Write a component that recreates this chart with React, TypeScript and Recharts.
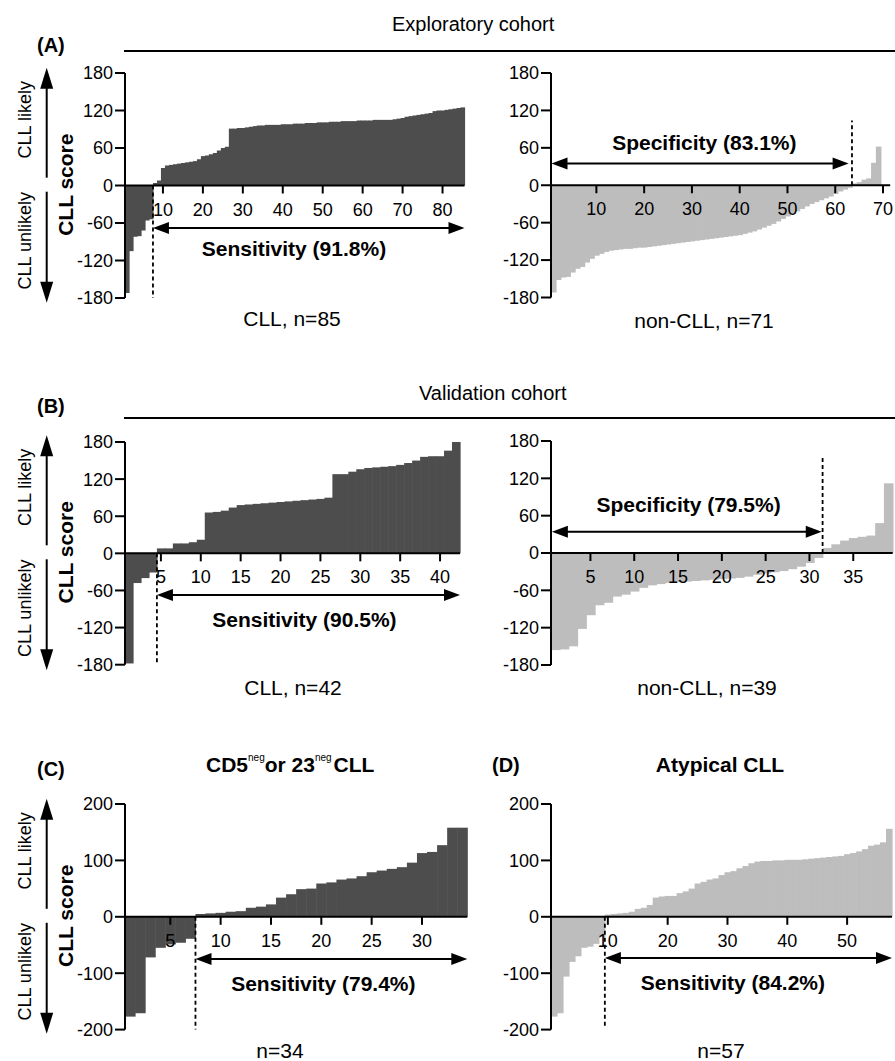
import React from 'react'
import { BarChart, Bar, XAxis, YAxis, ReferenceLine } from 'recharts'

const FONT = 'Arial, "Liberation Sans", Helvetica, sans-serif'
const DARK = '#4d4d4d'
const LIGHT = '#bdbdbd'

// (A) exploratory cohort, CLL score per case, sorted
const expCll = [
  -172, -105, -82, -81, -72, -56, -54,
  4, 8, 28, 32, 33, 34, 35, 36, 37, 38, 39, 42, 47, 48, 50, 52, 56, 60, 62,
  91, 91, 92, 92, 93, 94, 95, 96, 96, 97, 97, 97, 97, 98, 98, 98, 99, 99, 99, 100,
  100, 100, 101, 101, 101, 102, 102, 102, 103, 103, 103, 103, 104, 104, 104, 104,
  105, 105, 105, 105, 105, 106, 107, 108, 110, 111, 112, 113, 114, 115, 116, 119,
  120, 120, 121, 122, 123, 124, 125,
]
const expNonCll: (number | null)[] = [
  -172, -152, -148, -147, -140, -134, -131, -124, -118, -113, -110, -107, -105,
  -104, -103, -102, -102, -101, -100, -100, -99, -98, -97, -96, -95, -94, -93,
  -92, -91, -90, -89, -88, -87, -86, -85, -84, -83, -82, -81, -80, -78, -76, -74,
  -71, -68, -65, -62, -58, -54, -50, -46, -42, -38, -34, -30, -27, -24, -21, -18,
  -14, -10, -7, -4,
  3, 5, 9, 11, 36, 62, null, null,
]

// (B) validation cohort
const valCll = [
  -178, -48, -40, -31,
  8, 8, 16, 16, 18, 22, 66, 67, 69, 74, 78, 79, 80, 81, 82, 83, 84, 85, 86, 87, 88,
  90, 128, 128, 132, 136, 138, 139, 140, 141, 143, 146, 150, 156, 157, 157, 166, 180,
]
const valNonCll = [
  -156, -155, -150, -122, -100, -84, -80, -70, -67, -62, -56, -52, -50, -48, -47,
  -46, -45, -44, -43, -42, -41, -40, -38, -35, -33, -31, -29, -26, -22, -16, -8,
  8, 14, 20, 24, 26, 28, 48, 112,
]

// (C) CD5neg or CD23neg CLL, (D) atypical CLL
const cd5Cll = [
  -177, -171, -72, -55, -49, -46, -39,
  5, 6, 7, 9, 10, 16, 18, 22, 34, 40, 49, 50, 59, 61, 66, 68, 72, 79, 82, 85, 88,
  96, 113, 115, 127, 158, 158,
]
const atypCll = [
  -177, -171, -106, -80, -70, -55, -53, -48, -36,
  4, 5, 6, 7, 9, 14, 16, 21, 34, 36, 37, 37, 42, 45, 50, 59, 62, 66, 68, 74, 79, 81,
  86, 90, 95, 98, 99, 99, 100, 100, 101, 101, 101, 102, 103, 104, 105, 106, 107,
  108, 111, 113, 116, 120, 126, 128, 132, 156,
]

const ticks180 = [-180, -120, -60, 0, 60, 120, 180]
const ticks200 = [-200, -100, 0, 100, 200]

interface PanelProps {
  values: (number | null)[]
  fill: string
  axisX: number
  endX: number
  yTop: number
  yBottom: number
  yMax: number
  yTicks: number[]
  xTicks: number[]
  cut: number
  cutTo: number
  arrow: [number, number, number]
  label: string
  labelAt: [number, number]
}

const arrowShape = (props: any) => {
  const { x1, x2, y1 } = props
  const a = Math.min(x1, x2)
  const b = Math.max(x1, x2)
  const L = 16
  const h = 6
  return (
    <g>
      <line x1={a + L - 1} x2={b - L + 1} y1={y1} y2={y1} stroke="#000" strokeWidth={2} />
      <polygon points={`${a},${y1} ${a + L},${y1 - h} ${a + L},${y1 + h}`} fill="#000" />
      <polygon points={`${b},${y1} ${b - L},${y1 - h} ${b - L},${y1 + h}`} fill="#000" />
    </g>
  )
}

const textShape = (txt: string) => (props: any) => (
  <text
    x={(props.x1 + props.x2) / 2}
    y={props.y1}
    dy="0.35em"
    textAnchor="middle"
    fontFamily={FONT}
    fontSize={21}
    fontWeight="bold"
    fill="#000"
  >
    {txt}
  </text>
)

// plain rect, a little wider so neighbouring bars join without seams
const barShape = (fill: string) => (props: any) => {
  const { x, y, width, height } = props
  if (width == null || height == null || !isFinite(y)) return <g />
  const top = Math.min(y, y + height)
  return <rect x={x} y={top} width={width + 0.6} height={Math.abs(height)} fill={fill} />
}

function Panel(p: PanelProps) {
  const YW = 60
  const MT = 12
  const MB = 12
  const MR = 4
  const plotW = p.endX - p.axisX
  const plotH = p.yBottom - p.yTop
  const zeroY = MT + plotH / 2
  const n = p.values.length
  const data = p.values.map((v, i) => ({ i: i + 1, v }))

  const renderTick = (props: any) => {
    const v = Number(props.payload?.value)
    if (!p.xTicks.includes(v)) return <g />
    return (
      <g>
        <line x1={props.x} x2={props.x} y1={zeroY} y2={zeroY + 8} stroke="#000" strokeWidth={2} />
        <text x={props.x} y={zeroY + 30} textAnchor="middle" fontFamily={FONT} fontSize={18} fill="#000">
          {v}
        </text>
      </g>
    )
  }

  return (
    <div style={{ position: 'absolute', left: p.axisX - YW, top: p.yTop - MT }}>
      <BarChart
        width={YW + plotW + MR}
        height={MT + plotH + MB}
        data={data}
        margin={{ top: MT, right: MR, bottom: MB - 2, left: 0 }}
        barCategoryGap={0}
        barGap={0}
      >
        <Bar dataKey="v" fill={p.fill} shape={barShape(p.fill)} isAnimationActive={false} />
        <XAxis dataKey="i" height={2} axisLine={false} tickLine={false} interval={0} tick={renderTick} />
        <XAxis xAxisId="n" type="number" dataKey="i" domain={[0.5, n + 0.5]} hide allowDataOverflow />
        <YAxis
          width={YW}
          domain={[-p.yMax, p.yMax]}
          ticks={p.yTicks}
          interval={0}
          allowDataOverflow
          axisLine={{ stroke: '#000', strokeWidth: 2 }}
          tickLine={{ stroke: '#000', strokeWidth: 2 }}
          tickSize={10}
          tickMargin={2}
          tick={{ fill: '#000', fontSize: 18, fontFamily: FONT }}
        />
        <ReferenceLine y={0} stroke="#000" strokeWidth={2} />
        <ReferenceLine
          xAxisId="n"
          ifOverflow="visible"
          segment={[{ x: p.cut, y: 0 }, { x: p.cut, y: p.cutTo }]}
          stroke="#000"
          strokeWidth={1.8}
          strokeDasharray="4 3"
        />
        <ReferenceLine
          xAxisId="n"
          ifOverflow="visible"
          segment={[{ x: p.arrow[0], y: p.arrow[2] }, { x: p.arrow[1], y: p.arrow[2] }]}
          shape={arrowShape}
        />
        <ReferenceLine
          xAxisId="n"
          ifOverflow="visible"
          segment={[{ x: p.labelAt[0] - 1, y: p.labelAt[1] }, { x: p.labelAt[0] + 1, y: p.labelAt[1] }]}
          shape={textShape(p.label)}
        />
      </BarChart>
    </div>
  )
}

function SideLabels({ zero }: { zero: number }) {
  const ax = 46.7
  return (
    <g fontFamily={FONT} fill="#000">
      <text transform={`translate(31, ${zero - 66}) rotate(-90)`} textAnchor="middle" fontSize={18}>
        CLL likely
      </text>
      <text transform={`translate(31, ${zero + 55}) rotate(-90)`} textAnchor="middle" fontSize={18}>
        CLL unlikely
      </text>
      <text transform={`translate(73, ${zero - 1}) rotate(-90)`} textAnchor="middle" fontSize={21} fontWeight="bold">
        CLL score
      </text>
      <line x1={ax} x2={ax} y1={zero - 100} y2={zero - 8} stroke="#000" strokeWidth={2} />
      <polygon points={`${ax},${zero - 118} ${ax - 6.5},${zero - 97} ${ax + 6.5},${zero - 97}`} />
      <line x1={ax} x2={ax} y1={zero + 6} y2={zero + 98} stroke="#000" strokeWidth={2} />
      <polygon points={`${ax},${zero + 117} ${ax - 6.5},${zero + 96} ${ax + 6.5},${zero + 96}`} />
    </g>
  )
}

export default function App() {
  return (
    <div style={{ position: 'absolute', left: 0, top: 0, width: 895, height: 1061, background: '#fff', overflow: 'hidden' }}>
      <Panel
        values={expCll}
        fill={DARK}
        axisX={125}
        endX={464.5}
        yTop={72.7}
        yBottom={297.7}
        yMax={180}
        yTicks={ticks180}
        xTicks={[10, 20, 30, 40, 50, 60, 70, 80]}
        cut={7.5}
        cutTo={-180}
        arrow={[7.5, 85.5, -68]}
        label="Sensitivity (91.8%)"
        labelAt={[42.8, -101]}
      />
      <Panel
        values={expNonCll}
        fill={LIGHT}
        axisX={551.4}
        endX={890.6}
        yTop={73}
        yBottom={297.5}
        yMax={180}
        yTicks={ticks180}
        xTicks={[10, 20, 30, 40, 50, 60, 70]}
        cut={63.5}
        cutTo={104}
        arrow={[0.6, 62.8, 35]}
        label="Specificity (83.1%)"
        labelAt={[32.6, 68]}
      />
      <Panel
        values={valCll}
        fill={DARK}
        axisX={124.5}
        endX={459.5}
        yTop={442}
        yBottom={664.7}
        yMax={180}
        yTicks={ticks180}
        xTicks={[5, 10, 15, 20, 25, 30, 35, 40]}
        cut={4.5}
        cutTo={-180}
        arrow={[4.5, 42.5, -67.5]}
        label="Sensitivity (90.5%)"
        labelAt={[23, -107]}
      />
      <Panel
        values={valNonCll}
        fill={LIGHT}
        axisX={551.3}
        endX={893}
        yTop={441}
        yBottom={665}
        yMax={180}
        yTicks={ticks180}
        xTicks={[5, 10, 15, 20, 25, 30, 35]}
        cut={31.5}
        cutTo={156}
        arrow={[0.6, 31.4, 34]}
        label="Specificity (79.5%)"
        labelAt={[16.2, 78]}
      />
      <Panel
        values={cd5Cll}
        fill={DARK}
        axisX={124.7}
        endX={467}
        yTop={804}
        yBottom={1029.6}
        yMax={200}
        yTicks={ticks200}
        xTicks={[5, 10, 15, 20, 25, 30]}
        cut={7.5}
        cutTo={-200}
        arrow={[7.5, 34.5, -75]}
        label="Sensitivity (79.4%)"
        labelAt={[20.2, -118]}
      />
      <Panel
        values={atypCll}
        fill={LIGHT}
        axisX={550.8}
        endX={891.8}
        yTop={804}
        yBottom={1029.6}
        yMax={200}
        yTicks={ticks200}
        xTicks={[10, 20, 30, 40, 50]}
        cut={9.5}
        cutTo={-197}
        arrow={[9.5, 57.5, -73]}
        label="Sensitivity (84.2%)"
        labelAt={[30.9, -117]}
      />

      <svg width={895} height={1061} style={{ position: 'absolute', left: 0, top: 0, pointerEvents: 'none' }}>
        <g fontFamily={FONT} fill="#000">
          <text x={392} y={31} fontSize={20}>Exploratory cohort</text>
          <line x1={124} x2={895} y1={51} y2={51} stroke="#000" strokeWidth={2} />
          <text x={37} y={52} fontSize={20} fontWeight="bold">(A)</text>
          <text x={292} y={326} fontSize={21} textAnchor="middle">CLL, n=85</text>
          <text x={704} y={328} fontSize={21} textAnchor="middle">non-CLL, n=71</text>

          <text x={419} y={400} fontSize={20}>Validation cohort</text>
          <line x1={124} x2={895} y1={418} y2={418} stroke="#000" strokeWidth={2} />
          <text x={37} y={413} fontSize={20} fontWeight="bold">(B)</text>
          <text x={293} y={695} fontSize={21} textAnchor="middle">CLL, n=42</text>
          <text x={707} y={695} fontSize={21} textAnchor="middle">non-CLL, n=39</text>

          <text x={37} y={776} fontSize={20} fontWeight="bold">(C)</text>
          <text x={206} y={772} fontSize={21} fontWeight="bold">
            CD5<tspan fontSize={10} fontWeight="normal" dy={-11}>neg</tspan>
            <tspan dy={11} dx={0}>or 23</tspan>
            <tspan fontSize={10} fontWeight="normal" dy={-11}>neg</tspan>
            <tspan dy={11} dx={2}>CLL</tspan>
          </text>
          <text x={280} y={1058} fontSize={21} textAnchor="middle">n=34</text>

          <text x={492} y={772} fontSize={20} fontWeight="bold">(D)</text>
          <text x={720} y={772} fontSize={21} fontWeight="bold" textAnchor="middle">Atypical CLL</text>
          <text x={721} y={1058} fontSize={21} textAnchor="middle">n=57</text>

          <SideLabels zero={185.7} />
          <SideLabels zero={553.3} />
          <SideLabels zero={916.8} />
        </g>
      </svg>
    </div>
  )
}
